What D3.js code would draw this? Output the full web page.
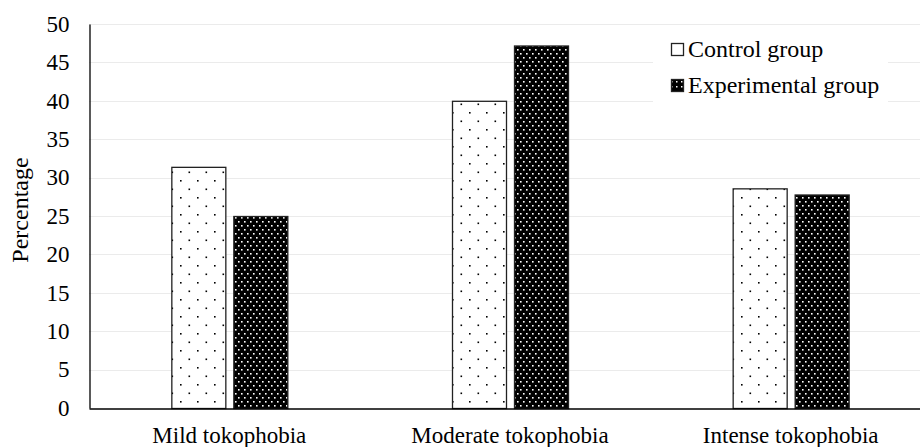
<!DOCTYPE html>
<html><head><meta charset="utf-8">
<script src="https://cdn.jsdelivr.net/npm/d3@7"></script>
<style>body{margin:0;background:#fff}svg{display:block}text{font-family:"Liberation Serif","Times New Roman",serif;fill:#000}</style>
</head><body><svg id="c" width="920" height="447"></svg>
<script>
const categories = ["Mild tokophobia", "Moderate tokophobia", "Intense tokophobia"];
const seriesNames = ["Control group", "Experimental group"];
const controlValues = [31.4, 40.0, 28.6];
const experimentalValues = [25.0, 47.2, 27.8];
const yTicks = [0, 5, 10, 15, 20, 25, 30, 35, 40, 45, 50];

const FONT = '"Liberation Serif","Times New Roman",serif';
const svg = d3.select("#c");
const m = {left: 89, right: 931, top: 24, bottom: 408};
const x = d3.scaleBand().domain(categories).range([m.left, m.right]);
const y = d3.scaleLinear().domain([0, 50]).range([m.bottom, m.top]);

const defs = svg.append("defs");
const p1 = defs.append("pattern").attr("id","pc").attr("patternUnits","userSpaceOnUse")
  .attr("width",17).attr("height",17);
p1.append("rect").attr("width",17).attr("height",17).attr("fill","#fff");
p1.append("rect").attr("x",1.5).attr("y",1.5).attr("width",1.6).attr("height",1.6).attr("fill","#000");
p1.append("rect").attr("x",10).attr("y",10).attr("width",1.6).attr("height",1.6).attr("fill","#000");
const p2 = defs.append("pattern").attr("id","pe").attr("patternUnits","userSpaceOnUse")
  .attr("width",6).attr("height",8);
p2.append("rect").attr("width",6).attr("height",8).attr("fill","#000");
p2.append("rect").attr("x",1).attr("y",1).attr("width",1.6).attr("height",1.6).attr("fill","#fff");
p2.append("rect").attr("x",4).attr("y",5).attr("width",1.6).attr("height",1.6).attr("fill","#fff");
const p3 = defs.append("pattern").attr("id","pl").attr("patternUnits","userSpaceOnUse")
  .attr("width",5).attr("height",5);
p3.append("rect").attr("width",5).attr("height",5).attr("fill","#000");
p3.append("rect").attr("x",1).attr("y",1).attr("width",1.5).attr("height",1.5).attr("fill","#fff");

// gridlines
svg.append("g").selectAll("line").data(yTicks.filter(d=>d>0)).join("line")
  .attr("x1", m.left).attr("x2", m.right)
  .attr("y1", d=>Math.round(y(d))+0.5).attr("y2", d=>Math.round(y(d))+0.5)
  .attr("stroke","#ebebeb").attr("stroke-width",1);

// y axis
const ya = svg.append("g").attr("transform",`translate(${m.left+0.5},0)`)
  .call(d3.axisLeft(y).tickValues(yTicks).tickSize(0).tickPadding(20));
ya.select(".domain").attr("stroke","#000").attr("stroke-width",1.3);
ya.selectAll("text").style("font-family",FONT).style("font-size","23px");

// bars
const barW = 54, gap = 8;
const data = categories.map((c,i)=>({c, vals:[controlValues[i], experimentalValues[i]]}));
const groups = svg.append("g").selectAll("g").data(data).join("g");
groups.selectAll("rect").data(d=>d.vals.map((v,j)=>({c:d.c,v,j}))).join("rect")
  .attr("x", d=> x(d.c) + x.bandwidth()/2 - barW - gap/2 + d.j*(barW+gap) + 0.5)
  .attr("y", d=> y(d.v)+0.5)
  .attr("width", barW).attr("height", d=> y(0)-y(d.v))
  .attr("fill", d=> d.j===0 ? "url(#pc)" : "url(#pe)")
  .attr("stroke", "#222").attr("stroke-width", 1.3);

// x axis
const xa = svg.append("g").attr("transform",`translate(0,${m.bottom+0.5})`)
  .call(d3.axisBottom(x).tickSize(0).tickPadding(18));
xa.select(".domain").attr("stroke","#000").attr("stroke-width",1.3);
xa.selectAll("text").style("font-family",FONT).style("font-size","23px");

// y title
svg.append("text").attr("transform",`translate(28,210) rotate(-90)`)
  .attr("text-anchor","middle").style("font-family",FONT).style("font-size","24px").text("Percentage");

// legend
const lg = svg.append("g");
lg.append("rect").attr("x",653).attr("y",28).attr("width",235).attr("height",77).attr("fill","#fff");
seriesNames.forEach((n,i)=>{
  const ly = 49.5 + i*36;
  lg.append("rect").attr("x",671.5).attr("y",ly-6).attr("width",12).attr("height",12)
    .attr("fill", i===0 ? "#fff" : "url(#pl)").attr("stroke","#222").attr("stroke-width",1.3);
  lg.append("text").attr("x",688).attr("y",ly+7.5).style("font-family",FONT).style("font-size","24px").text(n);
});
</script></body></html>
